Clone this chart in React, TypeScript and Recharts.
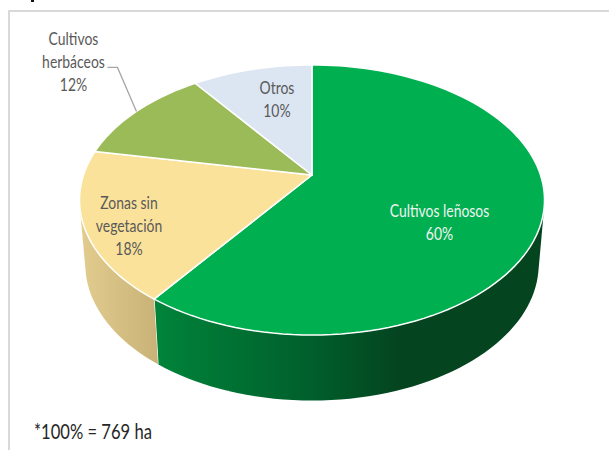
import { PieChart, Pie } from "recharts";

const categories = ["Cultivos leñosos", "Zonas sin vegetación", "Cultivos herbáceos", "Otros"];
const shares = [60, 18, 12, 10];
const topColors = ["#00b050", "#fbe29a", "#9bbb59", "#dce6f2"];
const wallFills = ["url(#wallGreen)", "url(#wallTan)", "#7d9647", "#b0b8c2"];
const labelLines = [
  ["Cultivos leñosos", "60%"],
  ["Zonas sin", "vegetación", "18%"],
  ["Cultivos", "herbáceos", "12%"],
  ["Otros", "10%"],
];
const labelColors = ["#f2f2f2", "#595959", "#595959", "#595959"];
// label centre relative to the point on the rim at the middle of the slice
const labelShift = [
  [-103, 5],
  [45, -1],
  [-63, -49],
  [25, 30],
];

const data = categories.map((name, i) => ({ name, value: shares[i], fill: topColors[i] }));

const WIDTH = 609;
const HEIGHT = 450;
const CX = 312;
const CY = 175;
const FONT = "Lato, 'Liberation Sans', sans-serif";
const NARROW = 0.82;

// perspective of the tilted disc
const RX = 228.5;
const RY = 130.4;
const TILT = 0.185;
const WALL_X = 0.975;
const WALL_Y = 1.01;
const WALL_DROP = 64;

type Pt = { x: number; y: number };

function project(angle: number, r = 1): Pt {
  const rad = (angle * Math.PI) / 180;
  const u = r * Math.cos(rad);
  const v = r * Math.sin(rad);
  const k = 1 + TILT * v;
  return { x: CX + (RX * u) / k, y: CY - (RY * v) / k };
}

function lower(p: Pt): Pt {
  return { x: CX + (p.x - CX) * WALL_X, y: CY + WALL_DROP + (p.y - CY) * WALL_Y };
}

function arcPoints(start: number, end: number) {
  const steps = Math.max(2, Math.ceil(Math.abs(end - start) / 2));
  const pts: Pt[] = [];
  for (let i = 0; i <= steps; i++) pts.push(project(start + ((end - start) * i) / steps));
  return pts;
}

function toPath(pts: Pt[]) {
  return pts.map((p, i) => `${i ? "L" : "M"}${p.x.toFixed(2)},${p.y.toFixed(2)}`).join(" ") + " Z";
}

function area(q: Pt[]) {
  return q.reduce((s, p, i) => {
    const n = q[(i + 1) % q.length];
    return s + p.x * n.y - n.x * p.y;
  }, 0);
}

function TopSlice(props: any) {
  const pts = [{ x: CX, y: CY }, ...arcPoints(props.startAngle, props.endAngle)];
  return <path d={toPath(pts)} fill={props.fill} stroke="#fff" strokeWidth={1.5} strokeLinejoin="round" />;
}

// the wall is swept strip by strip so its silhouette follows the fold of the rim
function WallSlice(props: any) {
  const arc = arcPoints(props.startAngle, props.endAngle);
  const strips = arc.slice(1).map((p, i) => {
    const q = [arc[i], p, lower(p), lower(arc[i])];
    return toPath(area(q) < 0 ? q.reverse() : q);
  });
  const seam = lower(arc[arc.length - 1]);
  const end = arc[arc.length - 1];
  return (
    <g>
      <path d={strips.join(" ")} fill={wallFills[props.index]} stroke="none" />
      <line x1={end.x} y1={end.y} x2={seam.x} y2={seam.y} stroke="#fff" strokeWidth={1.2} />
    </g>
  );
}

function SliceLabel(props: any) {
  const { index, midAngle } = props;
  const rim = project(midAngle);
  const [dx, dy] = labelShift[index];
  const lines = labelLines[index];
  const x = rim.x + dx;
  const y = rim.y + dy - ((lines.length - 1) * 23) / 2;
  return (
    <g>
      {index === 2 && (
        <polyline points={`${x + 34},${y + 28} ${x + 44},${y + 28} ${rim.x},${rim.y}`} fill="none" stroke="#a6a6a6" strokeWidth={1.3} />
      )}
      {lines.map((line, i) => (
        <text
          key={line}
          transform={`translate(${x},${y + 6 + i * 23}) scale(${NARROW},1)`}
          textAnchor="middle"
          fill={labelColors[index]}
          fontFamily={FONT}
          fontSize={17}
        >
          {line}
        </text>
      ))}
    </g>
  );
}

export default function App() {
  return (
    <div style={{ position: "absolute", left: 0, top: 0, width: WIDTH, height: HEIGHT, background: "#fff", overflow: "hidden" }}>
      {/* speck left by the cropped heading above the frame */}
      <div style={{ position: "absolute", left: 31, top: 0, width: 3, height: 2, background: "#111" }} />
      <div style={{ position: "absolute", left: 8, top: 10, width: 640, height: 500, border: "2px solid #d9d9d9" }} />
      <PieChart width={WIDTH} height={HEIGHT} margin={{ top: 0, right: 0, bottom: 0, left: 0 }}>
        <defs>
          <linearGradient id="wallGreen" x1="0" y1="0" x2="1" y2="0">
            <stop offset="0" stopColor="#00843a" />
            <stop offset="0.4" stopColor="#005f2c" />
            <stop offset="0.63" stopColor="#04441f" />
            <stop offset="1" stopColor="#04441f" />
          </linearGradient>
          <linearGradient id="wallTan" x1="0" y1="0" x2="1" y2="0">
            <stop offset="0" stopColor="#e2cc8e" />
            <stop offset="1" stopColor="#c8b277" />
          </linearGradient>
        </defs>
        <Pie
          data={data}
          dataKey="value"
          cx={CX}
          cy={CY}
          outerRadius={100}
          startAngle={90}
          endAngle={-270}
          shape={WallSlice}
          label={false}
          labelLine={false}
          isAnimationActive={false}
        />
        <Pie
          data={data}
          dataKey="value"
          cx={CX}
          cy={CY}
          outerRadius={100}
          startAngle={90}
          endAngle={-270}
          shape={TopSlice}
          label={SliceLabel}
          labelLine={false}
          isAnimationActive={false}
        />
      </PieChart>
      <div
        style={{
          position: "absolute",
          left: 34,
          top: 418,
          fontFamily: FONT,
          fontSize: 21,
          color: "#262626",
          whiteSpace: "nowrap",
          transform: "scaleX(0.79)",
          transformOrigin: "left top",
        }}
      >
        *100% = 769 ha
      </div>
    </div>
  );
}
